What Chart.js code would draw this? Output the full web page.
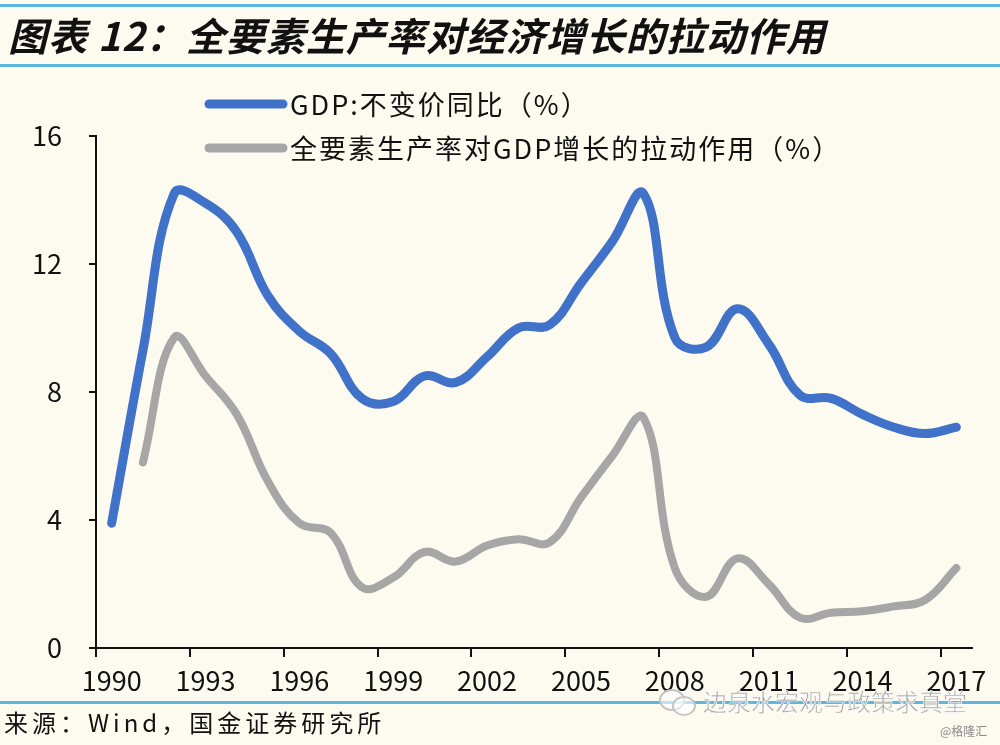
<!DOCTYPE html>
<html lang="zh-CN">
<head>
<meta charset="utf-8">
<title>图表12：全要素生产率对经济增长的拉动作用</title>
<script src="https://cdn.jsdelivr.net/npm/chart.js@4.4.1/dist/chart.umd.min.js"></script>
<style>
  html, body { margin: 0; padding: 0; background: #fdfaf0; }
  #page { position: relative; width: 1000px; height: 745px; overflow: hidden; background: #fdfaf0; }
  #chart { position: absolute; left: 0; top: 0; }
  .rule { position: absolute; left: 0; width: 1000px; height: 3px; background: #5cb6e0; }
  #title {
    position: absolute; left: 8px; top: 6px;
    font: italic 700 39px "Noto Sans CJK SC", sans-serif;
    color: #111; white-space: nowrap; letter-spacing: 1px;
  }
  #source {
    position: absolute; left: 4px; top: 704px;
    font: 400 24px "Noto Sans CJK SC", sans-serif; color: #111; white-space: nowrap;
    letter-spacing: 4px;
  }
  #mark {
    position: absolute; left: 703px; top: 683px;
    font: 400 24px "Noto Sans CJK SC", sans-serif; color: #a8a8a8; white-space: nowrap;
    -webkit-text-stroke: 0.6px #ffffff;
  }
  .bubble { position: absolute; border: 2px solid #c4c4c4; border-radius: 50%; background: rgba(255,255,255,0.6); }
  #mark2 {
    position: absolute; left: 940px; top: 722px;
    font: 400 12px "Noto Sans CJK SC", sans-serif; color: #8a8a8a; white-space: nowrap;
  }
</style>
</head>
<body>
<div id="page">
  <canvas id="chart" width="1000" height="745"></canvas>
  <div class="rule" style="top:4px"></div>
  <div id="title">图表 12：全要素生产率对经济增长的拉动作用</div>
  <div class="rule" style="top:64px"></div>
  <div class="rule" style="top:701px"></div>
  <div id="source">来源：Wind，国金证券研究所</div>
  <div class="bubble" style="left:659px;top:689px;width:22px;height:18px"></div>
  <div class="bubble" style="left:672px;top:696px;width:20px;height:16px"></div>
  <div id="mark">边泉水宏观与政策求真堂</div>
  <div id="mark2">@格隆汇</div>
</div>
<script>
// --- Data ---
const years = ['1990', '1991', '1992', '1993', '1994', '1995', '1996', '1997', '1998', '1999',
               '2000', '2001', '2002', '2003', '2004', '2005', '2006', '2007', '2008', '2009',
               '2010', '2011', '2012', '2013', '2014', '2015', '2016', '2017'];

// GDP: 不变价同比 (%)
const gdpGrowth = [3.9, 9.3, 14.2, 13.9, 13.0, 11.0, 9.9, 9.2, 7.8, 7.7,
                   8.5, 8.3, 9.1, 10.0, 10.1, 11.4, 12.7, 14.2, 9.7, 9.4,
                   10.6, 9.5, 7.9, 7.8, 7.3, 6.9, 6.7, 6.9];

// 全要素生产率对GDP增长的拉动作用 (%)
const tfpContribution = [null, 5.8, 9.7, 8.5, 7.3, 5.2, 3.9, 3.6, 1.9, 2.2,
                         3.0, 2.7, 3.2, 3.4, 3.3, 4.7, 6.0, 7.2, 2.5, 1.6,
                         2.8, 2.0, 0.95, 1.1, 1.15, 1.3, 1.5, 2.5];

const yTicks = [0, 4, 8, 12, 16];
const seriesNames = ['GDP:不变价同比（%）', '全要素生产率对GDP增长的拉动作用（%）'];
const seriesColors = ['#3f72c8', '#a6a6a6'];

const labelFont = '"Liberation Sans Narrow", "Arial Narrow", "Noto Sans CJK SC", sans-serif';

// --- Legend drawn inside the plot, left aligned like the original ---
const insideLegend = {
    id: 'insideLegend',
    afterDraw(chart) {
        const ctx = chart.ctx;
        ctx.save();
        const rows = [104, 148];
        chart.data.datasets.forEach((ds, i) => {
            const y = rows[i];
            ctx.strokeStyle = ds.borderColor;
            ctx.lineWidth = 9;
            ctx.lineCap = 'round';
            ctx.beginPath();
            ctx.moveTo(209, y);
            ctx.lineTo(283, y);
            ctx.stroke();
            ctx.fillStyle = '#111';
            ctx.font = '400 27px ' + labelFont;
            ctx.letterSpacing = '2px';
            ctx.textBaseline = 'middle';
            ctx.fillText(ds.label, 290, y + 1);
        });
        ctx.restore();
    }
};

function initChart() {
    const ctx = document.getElementById('chart').getContext('2d');

    new Chart(ctx, {
        type: 'line',
        data: {
            labels: years,
            datasets: [{
                label: seriesNames[0],
                data: gdpGrowth,
                borderColor: seriesColors[0],
                borderWidth: 9,
                tension: 0.4,
                pointRadius: 0,
                borderCapStyle: 'round',
                borderJoinStyle: 'round',
                fill: false
            }, {
                label: seriesNames[1],
                data: tfpContribution,
                borderColor: seriesColors[1],
                borderWidth: 8,
                tension: 0.4,
                pointRadius: 0,
                borderCapStyle: 'round',
                borderJoinStyle: 'round',
                fill: false
            }]
        },
        options: {
            responsive: false,
            animation: false,
            clip: false,
            layout: {
                padding: { top: 136, right: 28, bottom: 47, left: 0 }
            },
            plugins: {
                legend: { display: false },
                title: { display: false },
                tooltip: { enabled: false }
            },
            scales: {
                x: {
                    type: 'category',
                    offset: true,
                    border: { display: true, color: '#111', width: 2 },
                    grid: {
                        offset: true,
                        drawOnChartArea: false,
                        drawTicks: true,
                        tickLength: 9,
                        lineWidth: 2,
                        color: function(c) { return c.index % 3 === 0 ? '#111' : 'rgba(0,0,0,0)'; }
                    },
                    ticks: {
                        autoSkip: false,
                        maxRotation: 0,
                        padding: 8,
                        color: '#111',
                        font: { family: labelFont, size: 27 },
                        callback: function(value, index) { return index % 3 === 0 ? years[index] : ''; }
                    },
                    afterFit: function(scale) { scale.height = 50; }
                },
                y: {
                    min: 0,
                    max: 16,
                    afterBuildTicks: function(scale) { scale.ticks = yTicks.map(v => ({ value: v })); },
                    border: { display: true, color: '#111', width: 2 },
                    grid: {
                        drawOnChartArea: false,
                        drawTicks: true,
                        tickLength: 7,
                        lineWidth: 2,
                        color: '#111'
                    },
                    ticks: {
                        padding: 27,
                        color: '#111',
                        font: { family: labelFont, size: 27 }
                    },
                    afterFit: function(scale) { scale.width = 96; }
                }
            }
        },
        plugins: [insideLegend]
    });
}

document.addEventListener('DOMContentLoaded', initChart);
</script>
</body>
</html>
